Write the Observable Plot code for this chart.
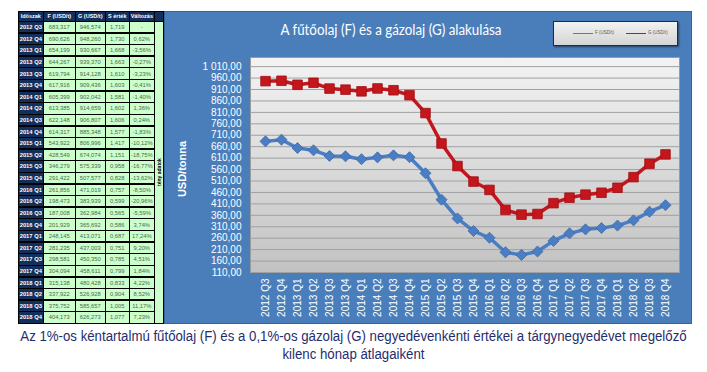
<!DOCTYPE html>
<html><head><meta charset="utf-8">
<script src="https://cdn.jsdelivr.net/npm/d3@7"></script>
<script src="https://cdn.jsdelivr.net/npm/@observablehq/plot@0.6"></script>
<style>
body{margin:0;width:707px;height:372px;background:#fff;position:relative;overflow:hidden;font-family:"Liberation Sans",Arial,sans-serif}
.c{position:absolute;box-sizing:border-box;display:flex;align-items:center;justify-content:center;white-space:nowrap;overflow:hidden}
#panel{position:absolute;left:164px;top:11px;width:528px;height:313px;background:#4a7ebb;border:1.5px solid #35639b;box-sizing:border-box}
#chart{position:absolute;left:164px;top:11px}
#title{position:absolute;left:241px;width:300px;top:21px;text-align:center;color:#fff;font-family:Lato,"Open Sans",sans-serif;font-size:14.5px;transform:scaleX(0.92)}
#legend{position:absolute;left:553px;top:21px;width:125px;height:25px;box-sizing:border-box;border:1.5px solid #1b2c44;background:linear-gradient(#f2f2f2,#d4d4d4);box-shadow:1px 1px 2px rgba(0,0,0,.5)}
#caption{position:absolute;left:-20px;width:747px;top:327px;text-align:center;color:#1f2d6e;font-family:"Liberation Sans Narrow","Arial Narrow","Liberation Sans",sans-serif;font-size:14px;line-height:18px;transform:scaleX(0.945)}
</style>
</head><body>
<div id="panel"></div>
<div id="chart"></div>
<div id="title">A fűtőolaj (F) és a gázolaj (G) alakulása</div>
<div id="legend"></div>
<div id="caption">Az 1%-os kéntartalmú fűtőolaj (F) és a 0,1%-os gázolaj (G) negyedévenkénti értékei a tárgynegyedévet megelőző<br>kilenc hónap átlagaiként</div>
<script>
const periods = ["2012 Q3","2012 Q4","2013 Q1","2013 Q2","2013 Q3","2013 Q4","2014 Q1","2014 Q2","2014 Q3","2014 Q4","2015 Q1","2015 Q2","2015 Q3","2015 Q4","2016 Q1","2016 Q2","2016 Q3","2016 Q4","2017 Q1","2017 Q2","2017 Q3","2017 Q4","2018 Q1","2018 Q2","2018 Q3","2018 Q4"];
const fValues = [683.317,690.626,654.199,644.267,619.794,617.916,605.399,613.385,622.148,614.317,543.922,428.549,346.279,291.422,261.856,198.473,187.008,201.929,248.145,281.235,298.581,304.094,315.138,337.922,375.752,404.173];
const gValues = [946.574,948.260,930.667,939.370,914.128,909.436,902.042,914.659,906.807,885.348,806.996,674.074,575.339,507.577,471.019,383.939,362.984,365.692,413.071,437.003,450.350,458.611,480.428,526.928,585.657,626.273];
const sValues = [1.719,1.730,1.668,1.663,1.610,1.603,1.581,1.602,1.606,1.577,1.417,1.151,0.958,0.828,0.757,0.599,0.565,0.586,0.687,0.751,0.785,0.799,0.833,0.904,1.005,1.077];
const changes = [null,0.0062,-0.0356,-0.0027,-0.0323,-0.0041,-0.0140,0.0136,0.0024,-0.0183,-0.1012,-0.1875,-0.1677,-0.1362,-0.0850,-0.2096,-0.0559,0.0374,0.1724,0.0920,0.0451,0.0184,0.0422,0.0852,0.1117,0.0723];
const headers = ["Időszak","F (USD/t)","G (USD/t)","S érték","Változás"];
const seriesNames = ["F (USD/t)","G (USD/t)"];
const sideLabel = "tény adatok";
const yTicks = d3.range(110, 1011, 50);

const loc = d3.formatLocale({decimal:",", thousands:"\u00a0", grouping:[3], currency:["",""], minus:"-", percent:"%"});
const f3 = loc.format(".3f"), f2 = loc.format(",.2f"), fp = loc.format(".2%");

// ---- table ----
const colX = [18,43,75,105,129,154,163];
const navy = "#132f5c", green = "#ccffcc";
function cell(x0,x1,y0,y1,text,bg,color,bold,fs){
  const d=document.createElement("div");d.className="c";
  Object.assign(d.style,{left:x0+"px",top:y0+"px",width:(x1-x0+0.6)+"px",height:(y1-y0+0.6)+"px",background:bg,color,fontWeight:bold?"bold":"normal",fontSize:fs+"px",border:"0.6px solid #000"});
  d.textContent=text;document.body.appendChild(d);return d;
}
const top0=11, hdr=21, rowH=(323-21)/26;
headers.forEach((h,i)=>cell(colX[i],colX[i+1],top0,hdr,h,navy,"#fff",true,5.5));
cell(colX[5],colX[6],top0,hdr,"",navy,"#fff",true,5);
periods.forEach((p,i)=>{
  const y0=hdr+i*rowH,y1=y0+rowH;
  cell(colX[0],colX[1],y0,y1,p,navy,"#fff",true,5.8);
  cell(colX[1],colX[2],y0,y1,f3(fValues[i]),green,"#4a6b4a",false,5.8);
  cell(colX[2],colX[3],y0,y1,f3(gValues[i]),green,"#4a6b4a",false,5.8);
  cell(colX[3],colX[4],y0,y1,f3(sValues[i]),green,"#4a6b4a",false,5.8);
  cell(colX[4],colX[5],y0,y1,changes[i]==null?"-":fp(changes[i]),green,"#4a6b4a",false,5.8);
});
const side=cell(colX[5],colX[6],hdr,323,"",green,"#000",true,5);
const st=document.createElement("span");st.textContent=sideLabel;st.style.transform="rotate(-90deg)";st.style.display="inline-block";st.style.fontSize="5px";st.style.fontWeight="bold";side.appendChild(st);

// ---- legend ----
const lg=document.getElementById("legend");
const blue="#4a7ec4", red="#c4161c";
[[blue,19],[red,72]].forEach(([c,x],i)=>{
  const l=document.createElement("div");Object.assign(l.style,{position:"absolute",left:x+"px",top:"10.5px",width:"20px",height:"1.5px",background:c});lg.appendChild(l);
  const t=document.createElement("div");t.textContent=seriesNames[i];Object.assign(t.style,{position:"absolute",left:(x+22)+"px",top:"8px",fontSize:"4.5px",color:"#555"});lg.appendChild(t);
});

// ---- chart ----
const rows = periods.map((p,i)=>({period:p,F:fValues[i],G:gValues[i]}));
const diamond = {draw(ctx,size){const r=Math.sqrt(size/2);ctx.moveTo(0,-r);ctx.lineTo(r,0);ctx.lineTo(0,r);ctx.lineTo(-r,0);ctx.closePath();}};
const chart = Plot.plot({
  width:528, height:313,
  marginLeft:86, marginRight:13, marginTop:46, marginBottom:52,
  style:{background:"transparent", color:"#fff", fontFamily:"'Liberation Sans',Arial,sans-serif", fontSize:"10px", overflow:"visible"},
  x:{type:"point", domain:periods, padding:0.5, label:null},
  y:{domain:[110,1050], label:null},
  marks:[
    Plot.frame({fill:"url(#plotbg)", stroke:"#9a9a9a"}),
    Plot.gridY(yTicks, {stroke:"#a0a0a0", strokeOpacity:1, strokeWidth:1}),
    Plot.axisY(yTicks, {tickSize:0, tickPadding:9, tickFormat:f2, fill:"#fff", label:null}),
    Plot.axisX({tickSize:0, tickRotate:-90, tickPadding:6, fill:"#fff", label:null}),
    Plot.text(["USD/tonna"], {frameAnchor:"left", dx:-68, dy:4, rotate:-90, textAnchor:"middle", fontWeight:"bold", fontSize:11, fill:"#fff"}),
    Plot.line(rows, {x:"period", y:"G", stroke:red, strokeWidth:3.5}),
    Plot.dot(rows, {x:"period", y:"G", symbol:"square", r:5.4, fill:red, stroke:"#a01014", strokeWidth:0.8}),
    Plot.line(rows, {x:"period", y:"F", stroke:blue, strokeWidth:3.5}),
    Plot.dot(rows, {x:"period", y:"F", symbol:diamond, r:4.4, fill:blue, stroke:"#3c6aa6", strokeWidth:0.8})
  ]
});
chart.insertAdjacentHTML("afterbegin",'<defs><linearGradient id="plotbg" x1="0" y1="0" x2="0" y2="1"><stop offset="0" stop-color="#f3f3f3"/><stop offset="1" stop-color="#c2c2c2"/></linearGradient></defs>');
document.getElementById("chart").appendChild(chart);
</script>
</body></html>
